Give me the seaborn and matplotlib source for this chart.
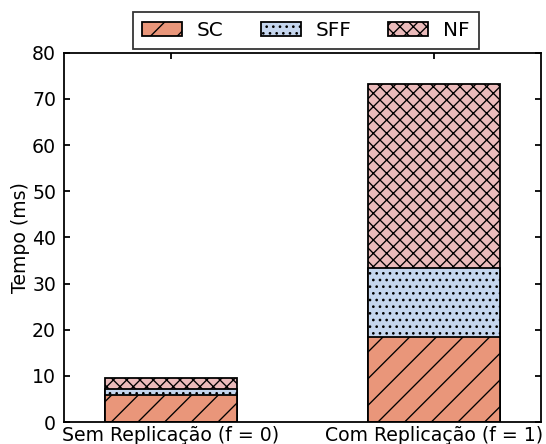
import pandas as pd
import matplotlib.pyplot as plt
import seaborn as sns

cenarios = ['Sem Replicação (f = 0)', 'Com Replicação (f = 1)']
sc = [5.8, 18.4]
sff = [1.4, 15.0]
nf = [2.3, 39.9]

cores = {'SC': '#E9967A', 'SFF': '#C5D6EE', 'NF': '#EBBBBB'}
hachuras = {'SC': '//', 'SFF': '....', 'NF': 'xxxx'}

df = pd.DataFrame({'Cenario': cenarios, 'SC': sc, 'SFF': sff, 'NF': nf})
df['SC_top'] = df['SC']
df['SFF_top'] = df['SC'] + df['SFF']
df['NF_top'] = df['SFF_top'] + df['NF']

sns.set_style("ticks")
plt.rcParams.update({
    'font.family': ['DejaVu Sans'],
    'text.color': 'black', 'axes.labelcolor': 'black',
    'xtick.direction': 'in', 'ytick.direction': 'in',
    'xtick.top': True, 'ytick.right': True,
    'axes.edgecolor': 'black', 'axes.linewidth': 0.8,
    'hatch.linewidth': 0.6, 'hatch.color': 'black',
})

fig = plt.figure(figsize=(546 / 160, 444 / 160), dpi=160)
ax = fig.add_axes([0.117, 0.0495, 0.874, 0.8315])

# barras empilhadas: desenha do total para baixo
for serie in ['NF', 'SFF', 'SC']:
    sns.barplot(data=df, x='Cenario', y=f'{serie}_top', color=cores[serie],
                width=0.5, edgecolor='black', linewidth=0.8, hatch=hachuras[serie],
                label=serie, ax=ax, saturation=1)

ax.set_xlim(-0.405, 1.405)
ax.set_ylim(0, 80)
ax.set_xlabel('')
ax.set_ylabel('Tempo (ms)', fontsize=8.5, labelpad=1)
ax.tick_params(labelsize=8.5, length=2.5, width=0.8, colors='black')
ax.tick_params(axis='x', pad=2)

h, l = ax.get_legend_handles_labels()
ordem = [l.index(s) for s in ['SC', 'SFF', 'NF']]
leg = ax.legend([h[i] for i in ordem], [l[i] for i in ordem], ncol=3,
                loc='upper center', bbox_to_anchor=(0.507, 1.111), fontsize=9,
                frameon=True, fancybox=False, edgecolor='black', borderaxespad=0,
                handlelength=2.0, handletextpad=0.75, columnspacing=1.85,
                borderpad=0.45)
leg.get_frame().set_linewidth(0.8)

fig.savefig('out.png', dpi=160)
